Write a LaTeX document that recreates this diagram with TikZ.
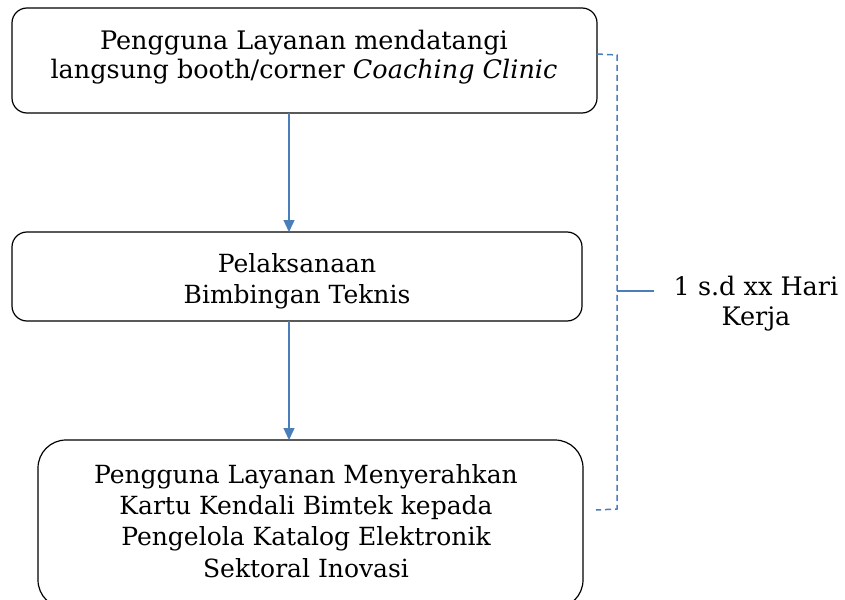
\documentclass[tikz,border=0pt]{standalone}
\usepackage{fontspec}
\setmainfont{DejaVu Serif}
\usetikzlibrary{arrows.meta}
\definecolor{linkblue}{HTML}{4A7EBB}
\tikzset{
  procbox/.style={draw=black, line width=1.2pt, rounded corners=15pt},
  flowarrow/.style={draw=linkblue, line width=1.4pt, -{Triangle[length=12pt,width=11pt]}},
  bracketline/.style={draw=linkblue, line width=1.5pt, dash pattern=on 6pt off 4pt},
  boxtext/.style={align=center, inner sep=0pt, font=\fontsize{25}{31.3}\selectfont},
}
\begin{document}
\begin{tikzpicture}[x=1pt,y=-1pt]
\useasboundingbox (0,0) rectangle (845,599);
\draw[procbox] (12,8) rectangle (597,113);
\node[name=b1, minimum width=585pt, minimum height=105pt, anchor=north west, inner sep=0pt] at (12,8) {};
\node[align=center, inner sep=0pt, font=\fontsize{25.5}{28.5}\selectfont] (t1) at (304,57) {Pengguna Layanan mendatangi\\langsung booth/corner \textit{Coaching Clinic}};
\draw[procbox] (12,232) rectangle (582,321);
\node[name=b2, minimum width=570pt, minimum height=89pt, anchor=north west, inner sep=0pt] at (12,232) {};
\node[boxtext] (t2) at (297,281) {Pelaksanaan\\Bimbingan Teknis};
\draw[procbox, rounded corners=28pt] (38,440) rectangle (583,608);
\node[name=b3, minimum width=545pt, minimum height=168pt, anchor=north west, inner sep=0pt] at (38,440) {};
\node[boxtext] (t3) at (306,521) {Pengguna Layanan Menyerahkan\\Kartu Kendali Bimtek kepada\\Pengelola Katalog Elektronik\\Sektoral Inovasi};
\draw[flowarrow] (b1.south -| 289,0) -- (b2.north -| 289,0);
\draw[flowarrow] (b2.south -| 289,0) -- (b3.north -| 289,0);
\coordinate (k1) at (597,54);
\coordinate (k2) at (617,55);
\coordinate (k3) at (617,509);
\coordinate (k4) at (596,510);
\coordinate (km) at (617,291);
\coordinate (kt) at (654,291);
\draw[bracketline] (k1) -- (k2) -- (k3) -- (k4);
\node[boxtext, font=\fontsize{25.5}{30}\selectfont] (lab) at (756,304) {1 s.d xx Hari\\Kerja};
\draw[draw=linkblue, line width=1.5pt] (km) -- (kt);
\end{tikzpicture}
\end{document}
